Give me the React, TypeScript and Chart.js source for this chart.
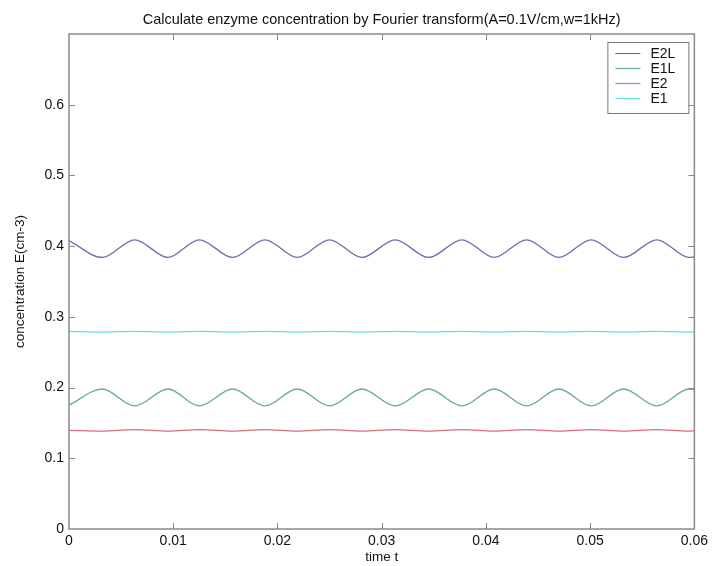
import React, { useEffect, useRef } from "react";
import { Chart, registerables } from "chart.js";

Chart.register(...registerables);

const TITLE = "Calculate enzyme concentration by Fourier transform(A=0.1V/cm,w=1kHz)";
const X_TITLE = "time t";
const Y_TITLE = "concentration E(cm-3)";

const SERIES_NAMES = ["E2L", "E1L", "E2", "E1"];
const SERIES_COLORS = ["#726cb6", "#68ab97", "#d9707c", "#62e0de"];

// time samples (extremes of the oscillation)
const TIME = [
  0, 0.0032, 0.0063, 0.0095, 0.0125, 0.0157, 0.0188, 0.0219, 0.025, 0.0281,
  0.0313, 0.0345, 0.0377, 0.0408, 0.0439, 0.047, 0.0501, 0.0532, 0.0564, 0.0595, 0.06,
];
const E2L = [
  0.408, 0.384, 0.409, 0.384, 0.409, 0.384, 0.409, 0.384, 0.409, 0.384,
  0.409, 0.384, 0.409, 0.384, 0.409, 0.384, 0.409, 0.384, 0.409, 0.384, 0.385,
];
const E1L = [
  0.175, 0.198, 0.174, 0.198, 0.174, 0.198, 0.174, 0.198, 0.174, 0.198,
  0.174, 0.198, 0.174, 0.198, 0.174, 0.198, 0.174, 0.198, 0.174, 0.198, 0.197,
];
const E2 = [
  0.1395, 0.1385, 0.1405, 0.1385, 0.1405, 0.1385, 0.1405, 0.1385, 0.1405, 0.1385,
  0.1405, 0.1385, 0.1405, 0.1385, 0.1405, 0.1385, 0.1405, 0.1385, 0.1405, 0.1385, 0.139,
];
const E1 = [
  0.2795, 0.2785, 0.2795, 0.2785, 0.2795, 0.2785, 0.2795, 0.2785, 0.2795, 0.2785,
  0.2795, 0.2785, 0.2795, 0.2785, 0.2795, 0.2785, 0.2795, 0.2785, 0.2795, 0.2785, 0.279,
];
const SERIES_VALUES = [E2L, E1L, E2, E1];

const X_MIN = 0;
const X_MAX = 0.06;
const X_STEP = 0.01;
const Y_MIN = 0;
const Y_MAX = 0.7;
const Y_STEP = 0.1;

const FONT = "Arial, 'Liberation Sans', sans-serif";
const FRAME = "#8a8a8a";

const framePlugin = {
  id: "matlabFrame",
  afterDatasetsDraw(chart: any) {
    const { ctx, chartArea } = chart;
    const { left, right, top, bottom } = chartArea;
    const xs = chart.scales.x;
    const ys = chart.scales.y;
    ctx.save();
    ctx.strokeStyle = FRAME;
    ctx.lineWidth = 1.5;
    ctx.strokeRect(left, top, right - left, bottom - top);
    ctx.lineWidth = 1;
    const tl = 6;
    ctx.beginPath();
    xs.ticks.forEach((t: any) => {
      const px = Math.round(xs.getPixelForValue(t.value)) + 0.5;
      if (px <= left + 1 || px >= right - 1) return;
      ctx.moveTo(px, bottom);
      ctx.lineTo(px, bottom - tl);
      ctx.moveTo(px, top);
      ctx.lineTo(px, top + tl);
    });
    ys.ticks.forEach((t: any) => {
      const py = Math.round(ys.getPixelForValue(t.value)) + 0.5;
      if (py <= top + 1 || py >= bottom - 1) return;
      ctx.moveTo(left, py);
      ctx.lineTo(left + tl, py);
      ctx.moveTo(right, py);
      ctx.lineTo(right - tl, py);
    });
    ctx.stroke();

    // title centred over plot area
    ctx.fillStyle = "#111";
    ctx.font = `14.5px ${FONT}`;
    ctx.textAlign = "center";
    ctx.textBaseline = "middle";
    ctx.fillText(TITLE, (left + right) / 2, 20);

    // legend inside plot, top-right
    const ds = chart.data.datasets;
    const boxW = 81;
    const rowH = 15;
    const boxH = 71;
    const bx = right - 6 - boxW;
    const by = top + 8;
    ctx.fillStyle = "#ffffff";
    ctx.fillRect(bx, by, boxW, boxH);
    ctx.strokeStyle = "#777";
    ctx.lineWidth = 1;
    ctx.strokeRect(bx + 0.5, by + 0.5, boxW, boxH);
    ctx.textAlign = "left";
    ctx.font = `14px ${FONT}`;
    ds.forEach((d: any, i: number) => {
      const cy = by + 11 + i * rowH;
      ctx.strokeStyle = d.borderColor;
      ctx.lineWidth = 1.2;
      ctx.beginPath();
      ctx.moveTo(bx + 8, cy + 0.5);
      ctx.lineTo(bx + 33, cy + 0.5);
      ctx.stroke();
      ctx.fillStyle = "#111";
      ctx.fillText(d.label, bx + 43, cy + 1);
    });
    ctx.restore();
  },
};

export default function App() {
  const ref = useRef<HTMLCanvasElement | null>(null);
  useEffect(() => {
    if (!ref.current) return;
    const datasets = SERIES_NAMES.map((name, i) => ({
      label: name,
      data: TIME.map((t, j) => ({ x: t, y: SERIES_VALUES[i][j] })),
      borderColor: SERIES_COLORS[i],
      backgroundColor: SERIES_COLORS[i],
      borderWidth: 1.3,
      pointRadius: 0,
      cubicInterpolationMode: "monotone" as const,
      fill: false,
    }));
    const chart = new Chart(ref.current, {
      type: "line",
      data: { datasets },
      plugins: [framePlugin],
      options: {
        animation: false,
        responsive: false,
        maintainAspectRatio: false,
        layout: { padding: { top: 34, right: 16, left: 0, bottom: 0 } },
        plugins: {
          legend: { display: false },
          title: { display: false },
          tooltip: { enabled: false },
        },
        scales: {
          x: {
            type: "linear",
            min: X_MIN,
            max: X_MAX,
            grid: { display: false, drawTicks: false },
            border: { display: false },
            ticks: {
              stepSize: X_STEP,
              color: "#111",
              font: { family: FONT, size: 14 },
              padding: 4,
              maxRotation: 0,
            },
            title: {
              display: true,
              text: X_TITLE,
              color: "#111",
              font: { family: FONT, size: 13.5 },
              padding: { top: 0, bottom: 1 },
            },
            afterFit(scale: any) {
              scale.height = 37;
            },
          },
          y: {
            type: "linear",
            min: Y_MIN,
            max: Y_MAX,
            grid: { display: false, drawTicks: false },
            border: { display: false },
            ticks: {
              stepSize: Y_STEP,
              color: "#111",
              font: { family: FONT, size: 14 },
              padding: 5,
              callback(value: any) {
                if (Math.abs(Number(value) - Y_MAX) < 1e-9) return "";
                return String(Math.round(Number(value) * 10) / 10);
              },
            },
            title: {
              display: true,
              text: Y_TITLE,
              color: "#111",
              font: { family: FONT, size: 13.5 },
              padding: { top: 12, bottom: 0 },
            },
            afterFit(scale: any) {
              scale.width = 69;
            },
          },
        },
      },
    });
    return () => chart.destroy();
  }, []);
  return (
    <div style={{ position: "fixed", left: 0, top: 0, width: 712, height: 566, background: "#fff" }}>
      <canvas ref={ref} width={712} height={566} style={{ width: 712, height: 566 }} />
    </div>
  );
}
